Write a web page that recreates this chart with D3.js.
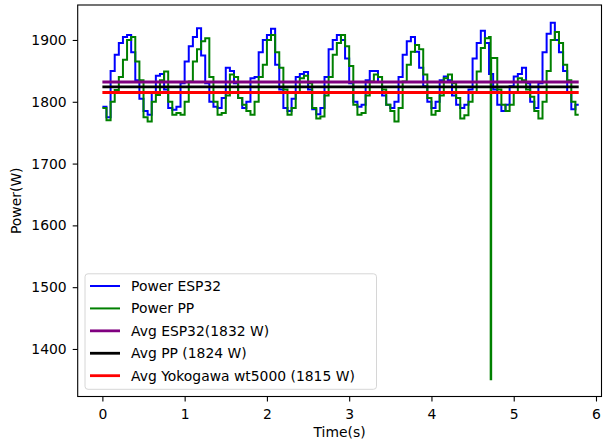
<!DOCTYPE html>
<html>
<head>
<meta charset="utf-8">
<script src="https://cdn.jsdelivr.net/npm/d3@7"></script>
<style>
	body { margin: 0; background: #fff; }
	svg text { font-family: "DejaVu Sans", sans-serif; font-size: 13.9px; fill: #000; }
	.axis path, .axis line { stroke: #000; stroke-width: 1.1; }
</style>
</head>
<body>
<svg width="603" height="445" id="chart"></svg>
<script>

	// sample times (s) and readings (W)
	var espTime = [0, 0.05, 0.1, 0.15, 0.2, 0.25, 0.3, 0.35, 0.4, 0.45,
		0.5, 0.55, 0.6, 0.65, 0.7, 0.75, 0.8, 0.85, 0.9, 0.95,
		1, 1.05, 1.1, 1.15, 1.2, 1.25, 1.3, 1.35, 1.4, 1.45,
		1.5, 1.55, 1.6, 1.65, 1.7, 1.75, 1.8, 1.85, 1.9, 1.95,
		2, 2.05, 2.1, 2.15, 2.2, 2.25, 2.3, 2.35, 2.4, 2.45,
		2.5, 2.55, 2.6, 2.65, 2.7, 2.75, 2.8, 2.85, 2.9, 2.95,
		3, 3.05, 3.1, 3.15, 3.2, 3.25, 3.3, 3.35, 3.4, 3.45,
		3.5, 3.55, 3.6, 3.65, 3.7, 3.75, 3.8, 3.85, 3.9, 3.95,
		4, 4.05, 4.1, 4.15, 4.2, 4.25, 4.3, 4.35, 4.4, 4.45,
		4.5, 4.55, 4.6, 4.65, 4.7, 4.75, 4.8, 4.85, 4.9, 4.95,
		5, 5.05, 5.1, 5.15, 5.2, 5.25, 5.3, 5.35, 5.4, 5.45,
		5.5, 5.55, 5.6, 5.65, 5.7, 5.75, 5.79];

	var espPower = [1792, 1775, 1850, 1876, 1895, 1905, 1908, 1880, 1835, 1805,
		1785, 1779, 1815, 1842, 1845, 1820, 1790, 1787, 1792, 1830,
		1865, 1890, 1905, 1919, 1875, 1830, 1800, 1792, 1790, 1806,
		1855, 1850, 1830, 1806, 1790, 1800, 1838, 1840, 1880, 1900,
		1908, 1918, 1860, 1820, 1790, 1785, 1805, 1840, 1845, 1848,
		1820, 1788, 1780, 1790, 1840, 1885, 1900, 1908, 1900, 1870,
		1830, 1800, 1792, 1795, 1835, 1850, 1850, 1832, 1810, 1795,
		1790, 1800, 1840, 1876, 1898, 1905, 1881, 1855, 1825, 1800,
		1790, 1800, 1835, 1841, 1835, 1810, 1795, 1790, 1795, 1820,
		1870, 1895, 1915, 1895, 1845, 1820, 1795, 1785, 1795, 1825,
		1841, 1845, 1855, 1830, 1800, 1790, 1830, 1880, 1910, 1928,
		1900, 1880, 1850, 1815, 1788, 1795, 1795];

	var ppTime = [0, 0.05, 0.1, 0.15, 0.2, 0.25, 0.3, 0.35, 0.4, 0.45,
		0.5, 0.55, 0.6, 0.65, 0.7, 0.75, 0.8, 0.85, 0.9, 0.95,
		1, 1.05, 1.1, 1.15, 1.2, 1.25, 1.3, 1.35, 1.4, 1.45,
		1.5, 1.55, 1.6, 1.65, 1.7, 1.75, 1.8, 1.85, 1.9, 1.95,
		2, 2.05, 2.1, 2.15, 2.2, 2.25, 2.3, 2.35, 2.4, 2.45,
		2.5, 2.55, 2.6, 2.65, 2.7, 2.75, 2.8, 2.85, 2.9, 2.95,
		3, 3.05, 3.1, 3.15, 3.2, 3.25, 3.3, 3.35, 3.4, 3.45,
		3.5, 3.55, 3.6, 3.65, 3.7, 3.75, 3.8, 3.85, 3.9, 3.95,
		4, 4.05, 4.1, 4.15, 4.2, 4.25, 4.3, 4.35, 4.4, 4.45,
		4.5, 4.55, 4.6, 4.65, 4.7, 4.72, 4.726, 4.75, 4.8, 4.85, 4.9, 4.95,
		5, 5.05, 5.1, 5.15, 5.2, 5.25, 5.3, 5.35, 5.4, 5.45,
		5.5, 5.55, 5.6, 5.65, 5.7, 5.75, 5.79];

	var ppPower = [1790, 1770, 1800, 1819, 1840, 1868, 1900, 1905, 1865, 1835,
		1775, 1768, 1800, 1811, 1835, 1849, 1800, 1779, 1782, 1779,
		1800, 1833, 1865, 1885, 1898, 1903, 1840, 1800, 1779, 1782,
		1810, 1844, 1840, 1806, 1795, 1785, 1779, 1800, 1840, 1860,
		1900, 1908, 1880, 1855, 1820, 1779, 1790, 1815, 1838, 1842,
		1830, 1790, 1773, 1776, 1810, 1840, 1876, 1895, 1908, 1890,
		1858, 1795, 1779, 1782, 1810, 1833, 1844, 1840, 1820, 1795,
		1785, 1768, 1790, 1833, 1860, 1881, 1892, 1885, 1844, 1806,
		1779, 1785, 1810, 1838, 1844, 1830, 1806, 1773, 1778, 1800,
		1815, 1849, 1887, 1903, 1905, 1351, 1871, 1871, 1820, 1795, 1785, 1795,
		1815, 1838, 1835, 1820, 1808, 1785, 1773, 1800, 1850, 1900,
		1913, 1895, 1860, 1835, 1800, 1779, 1779];

	var avgLabels = ["Avg ESP32(1832 W)", "Avg PP (1824 W)", "Avg Yokogawa wt5000 (1815 W)"];
	var avgValues = [1832, 1824, 1815];
	var avgSpan = [0, 5.79];

	var xTicks = [0, 1, 2, 3, 4, 5, 6];
	var yTicks = [1400, 1500, 1600, 1700, 1800, 1900];

	var svg = d3.select("svg#chart"),
		margin = { top: 5, right: 1.5, bottom: 48.5, left: 77.7 },
		width = +svg.attr("width") - margin.left - margin.right,
		height = +svg.attr("height") - margin.top - margin.bottom,
		g = svg.append("g").attr("transform", "translate(" + margin.left + "," + margin.top + ")");

	var x = d3.scaleLinear()
		.domain([-0.3, 6.067])
		.range([0, width]);

	var y = d3.scaleLinear()
		.domain([1323.1, 1956.6])
		.range([height, 0]);

	var line = d3.line()
		.x(function(d) { return x(d[0]); })
		.y(function(d) { return y(d[1]); })
		.curve(d3.curveStepAfter);

	var espData = espTime.map(function(t, i) { return [t, espPower[i]]; });
	var ppData = ppTime.map(function(t, i) { return [t, ppPower[i]]; });

	g.append("path")
		.datum(espData)
		.attr("fill", "none")
		.attr("stroke", "#0000ff")
		.attr("stroke-width", 2)
		.attr("d", line);

	g.append("path")
		.datum(ppData)
		.attr("fill", "none")
		.attr("stroke", "#008000")
		.attr("stroke-width", 2)
		.attr("d", line);

	var avgColors = ["#800080", "#000000", "#ff0000"];

	g.selectAll(".avg")
		.data(avgValues)
		.enter().append("line")
		.attr("class", "avg")
		.attr("x1", x(avgSpan[0]))
		.attr("x2", x(avgSpan[1]))
		.attr("y1", function(d) { return y(d); })
		.attr("y2", function(d) { return y(d); })
		.attr("stroke", function(d, i) { return avgColors[i]; })
		.attr("stroke-width", 2.8);

	// frame
	g.append("rect")
		.attr("width", width)
		.attr("height", height)
		.attr("fill", "none")
		.attr("stroke", "#000")
		.attr("stroke-width", 1.1);

	// add the x Axis
	g.append("g")
		.attr("class", "axis")
		.attr("transform", "translate(0," + height + ")")
		.call(d3.axisBottom(x).tickValues(xTicks).tickSize(5).tickPadding(7.6).tickFormat(d3.format("d")))
		.call(function(a) { a.select(".domain").remove(); a.selectAll("text").attr("font-size", null); });

	// add the y Axis
	g.append("g")
		.attr("class", "axis")
		.call(d3.axisLeft(y).tickValues(yTicks).tickSize(5).tickPadding(6).tickFormat(d3.format("d")))
		.call(function(a) { a.select(".domain").remove(); a.selectAll("text").attr("font-size", null); });

	svg.selectAll(".axis text").attr("font-family", null);

	svg.append("text")
		.attr("x", margin.left + width / 2)
		.attr("y", 437)
		.attr("text-anchor", "middle")
		.text("Time(s)");

	svg.append("text")
		.attr("transform", "translate(20.5," + (margin.top + height / 2) + ") rotate(-90)")
		.attr("text-anchor", "middle")
		.text("Power(W)");

	// legend
	var legendItems = [
		{ label: "Power ESP32", color: "#0000ff", w: 2 },
		{ label: "Power PP", color: "#008000", w: 2 }
	].concat(avgLabels.map(function(l, i) { return { label: l, color: avgColors[i], w: 2.8 }; }));

	var legend = svg.append("g");
	legend.append("rect")
		.attr("x", 85)
		.attr("y", 273.8)
		.attr("width", 291.5)
		.attr("height", 115.5)
		.attr("rx", 3)
		.attr("fill", "#fff")
		.attr("fill-opacity", 0.8)
		.attr("stroke", "#d6d6d6")
		.attr("stroke-width", 1);

	var rows = legend.selectAll(".item")
		.data(legendItems)
		.enter().append("g")
		.attr("class", "item")
		.attr("transform", function(d, i) { return "translate(0," + (286 + i * 22.42) + ")"; });

	rows.append("line")
		.attr("x1", 90)
		.attr("x2", 120)
		.attr("stroke", function(d) { return d.color; })
		.attr("stroke-width", function(d) { return d.w; });

	rows.append("text")
		.attr("x", 131)
		.attr("dy", "0.36em")
		.text(function(d) { return d.label; });

</script>
</body>
</html>
